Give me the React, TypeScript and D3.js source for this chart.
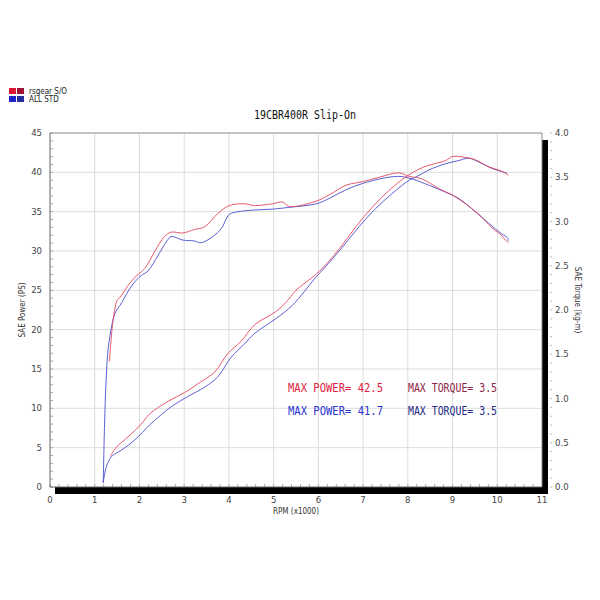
import React from 'react';
import * as d3 from 'd3';

// rpm (x1000) sample points for each run
const rsgearPowerRpm = [1.35, 1.49, 1.75, 2.04, 2.23, 2.64, 3.01, 3.38, 3.68, 3.98, 4.27, 4.57, 5.05, 5.28, 5.5, 6.02, 6.47, 6.84, 7.21, 7.58, 7.95, 8.25, 8.47, 8.85, 8.99, 9.29, 9.51, 9.81, 10.03, 10.18, 10.25];
const rsgearPower = [3.9, 5.1, 6.4, 8.0, 9.3, 10.9, 12.0, 13.4, 14.6, 17.0, 18.5, 20.6, 22.3, 23.5, 25.0, 27.4, 30.3, 33.1, 35.6, 37.7, 39.4, 40.4, 40.9, 41.5, 42.0, 41.9, 41.6, 40.7, 40.3, 39.9, 39.6];

const stdPowerRpm = [1.19, 1.26, 1.38, 1.6, 1.9, 2.23, 2.49, 2.71, 3.08, 3.46, 3.75, 4.05, 4.35, 4.57, 5.05, 5.42, 5.95, 6.13, 6.54, 6.91, 7.28, 7.65, 8.03, 8.25, 8.47, 8.85, 9.14, 9.36, 9.59, 9.88, 10.1, 10.22];
const stdPower = [0.5, 2.6, 3.9, 4.7, 6.0, 7.9, 9.2, 10.2, 11.5, 12.7, 14.0, 16.5, 18.2, 19.5, 21.4, 23.1, 26.7, 27.8, 30.5, 33.1, 35.4, 37.3, 39.0, 39.6, 40.3, 41.1, 41.5, 41.8, 41.3, 40.5, 40.1, 39.9];

const rsgearTorqueRpm = [1.33, 1.41, 1.51, 1.56, 1.75, 1.9, 2.12, 2.34, 2.56, 2.71, 2.97, 3.23, 3.46, 3.75, 4.01, 4.35, 4.57, 4.98, 5.2, 5.35, 5.95, 6.24, 6.62, 6.99, 7.36, 7.8, 8.03, 8.32, 8.7, 8.99, 9.29, 9.59, 9.88, 10.1, 10.18, 10.25];
const rsgearTorque = [1.42, 1.88, 2.12, 2.14, 2.28, 2.37, 2.47, 2.66, 2.83, 2.88, 2.87, 2.91, 2.94, 3.09, 3.18, 3.20, 3.18, 3.20, 3.22, 3.17, 3.23, 3.30, 3.41, 3.45, 3.50, 3.55, 3.51, 3.48, 3.37, 3.30, 3.20, 3.08, 2.93, 2.84, 2.79, 2.76];

const stdTorqueRpm = [1.19, 1.22, 1.25, 1.3, 1.38, 1.45, 1.6, 1.82, 2.04, 2.19, 2.42, 2.6, 2.71, 2.97, 3.23, 3.38, 3.64, 3.83, 4.01, 4.2, 4.57, 4.98, 5.35, 5.95, 6.24, 6.62, 6.99, 7.36, 7.8, 8.1, 8.47, 8.85, 9.14, 9.51, 9.81, 10.1, 10.22, 10.25];
const stdTorque = [0.05, 0.71, 1.16, 1.56, 1.82, 1.96, 2.08, 2.27, 2.39, 2.44, 2.62, 2.77, 2.83, 2.79, 2.78, 2.76, 2.83, 2.92, 3.08, 3.11, 3.13, 3.14, 3.16, 3.20, 3.26, 3.36, 3.43, 3.48, 3.51, 3.48, 3.41, 3.33, 3.26, 3.11, 2.98, 2.86, 2.82, 2.78];

const rpmTicks = d3.range(0, 12);
const powerTicks = d3.range(0, 50, 5);
const torqueTicks = d3.range(0, 4.5, 0.5);

const legendItems = ['rsgear S/O', 'ALL STD'];
const maxLabels = ['MAX POWER= 42.5', 'MAX TORQUE= 3.5', 'MAX POWER= 41.7', 'MAX TORQUE= 3.5'];

const RED = '#e2485e';
const BLUE = '#4a4ed2';

const DynoChart: React.FC = () => {
  const svgRef = React.useRef<SVGSVGElement>(null);

  React.useEffect(() => {
    if (!svgRef.current) return;
    const svg = d3.select(svgRef.current);
    svg.selectAll('*').remove();

    const left = 50, right = 542, top = 133, bottom = 487;
    const x = d3.scaleLinear().domain([0, 11]).range([left, right]);
    const yP = d3.scaleLinear().domain([0, 45]).range([bottom, top]);
    const yT = d3.scaleLinear().domain([0, 4]).range([bottom, top]);
    const font = "'Liberation Sans Narrow', 'DejaVu Sans Condensed', 'DejaVu Sans', sans-serif";

    // drop shadow + plot area
    svg.append('rect').attr('x', left + 5).attr('y', top + 7)
      .attr('width', right - left + 1).attr('height', bottom - top)
      .attr('fill', '#000');
    svg.append('rect').attr('x', left).attr('y', top)
      .attr('width', right - left).attr('height', bottom - top)
      .attr('fill', '#fff');

    // grid
    svg.append('g').selectAll('line').data(rpmTicks.slice(1, -1)).enter().append('line')
      .attr('x1', d => x(d)).attr('x2', d => x(d)).attr('y1', top).attr('y2', bottom)
      .attr('stroke', '#dcdcdc').attr('stroke-width', 1);
    svg.append('g').selectAll('line').data(powerTicks.slice(1, -1)).enter().append('line')
      .attr('x1', left).attr('x2', right).attr('y1', d => yP(d)).attr('y2', d => yP(d))
      .attr('stroke', '#dcdcdc').attr('stroke-width', 1);

    // minor ticks
    svg.append('g').selectAll('line').data(d3.range(0, 46, 1)).enter().append('line')
      .attr('x1', left).attr('x2', left + 3).attr('y1', d => yP(d)).attr('y2', d => yP(d))
      .attr('stroke', '#aaa');
    svg.append('g').selectAll('line').data(d3.range(0, 55, 1).map(d => d / 5)).enter().append('line')
      .attr('x1', d => x(d)).attr('x2', d => x(d)).attr('y1', bottom).attr('y2', bottom - 3)
      .attr('stroke', '#aaa');
    svg.append('g').selectAll('line').data(d3.range(0, 41, 1).map(d => d / 10)).enter().append('line')
      .attr('x1', right + 8).attr('x2', right + 10).attr('y1', d => yT(d)).attr('y2', d => yT(d))
      .attr('stroke', '#bbb');

    // borders
    svg.append('line').attr('x1', left).attr('x2', right).attr('y1', top).attr('y2', top).attr('stroke', '#888');
    svg.append('line').attr('x1', left).attr('x2', left).attr('y1', top).attr('y2', bottom).attr('stroke', '#666');
    svg.append('line').attr('x1', right).attr('x2', right).attr('y1', top).attr('y2', bottom).attr('stroke', '#888');
    svg.append('line').attr('x1', left).attr('x2', right).attr('y1', bottom).attr('y2', bottom).attr('stroke', '#666');

    // tick labels
    svg.append('g').selectAll('text').data(powerTicks).enter().append('text')
      .attr('x', left - 8).attr('y', d => yP(d) + 3).attr('text-anchor', 'end')
      .attr('font-family', font).attr('font-size', 9.5).attr('fill', '#444')
      .text(d => d);
    svg.append('g').selectAll('text').data(torqueTicks).enter().append('text')
      .attr('x', right + 13).attr('y', d => yT(d) + 3)
      .attr('font-family', font).attr('font-size', 9.5).attr('fill', '#444')
      .text(d => d.toFixed(1));
    svg.append('g').selectAll('text').data(rpmTicks).enter().append('text')
      .attr('x', d => x(d)).attr('y', bottom + 16).attr('text-anchor', 'middle')
      .attr('font-family', font).attr('font-size', 9.5).attr('fill', '#444')
      .text(d => d);

    // axis titles
    svg.append('text').attr('x', 296).attr('y', bottom + 27).attr('text-anchor', 'middle')
      .attr('font-family', font).attr('font-size', 8).attr('fill', '#333').text('RPM (x1000)');
    svg.append('text').attr('transform', 'translate(25,310) rotate(-90)').attr('text-anchor', 'middle')
      .attr('font-family', font).attr('font-size', 8).attr('fill', '#333').text('SAE Power (PS)');
    svg.append('text').attr('transform', 'translate(575,300) rotate(90)').attr('text-anchor', 'middle')
      .attr('font-family', font).attr('font-size', 8).attr('fill', '#333').text('SAE Torque (kg-m)');

    // title
    svg.append('text').attr('x', 305).attr('y', 119).attr('text-anchor', 'middle')
      .attr('font-family', "'DejaVu Sans Mono', monospace").attr('font-size', 13)
      .attr('textLength', 102).attr('lengthAdjust', 'spacingAndGlyphs')
      .attr('fill', '#111').text('19CBR400R Slip-On');

    // curves
    const powerLine = d3.line<[number, number]>().x(d => x(d[0])).y(d => yP(d[1])).curve(d3.curveCatmullRom.alpha(0.5));
    const torqueLine = d3.line<[number, number]>().x(d => x(d[0])).y(d => yT(d[1])).curve(d3.curveCatmullRom.alpha(0.5));
    const curves = [
      { path: torqueLine(d3.zip(stdTorqueRpm, stdTorque) as [number, number][]), color: BLUE },
      { path: powerLine(d3.zip(stdPowerRpm, stdPower) as [number, number][]), color: BLUE },
      { path: torqueLine(d3.zip(rsgearTorqueRpm, rsgearTorque) as [number, number][]), color: RED },
      { path: powerLine(d3.zip(rsgearPowerRpm, rsgearPower) as [number, number][]), color: RED },
    ];
    svg.append('g').selectAll('path').data(curves).enter().append('path')
      .attr('d', d => d.path || '').attr('fill', 'none')
      .attr('stroke', d => d.color).attr('stroke-width', 1).attr('stroke-opacity', 0.9);

    // max values
    const labelColors = ['#e0223e', '#8e2446', '#2a34d0', '#252a86'];
    svg.append('g').selectAll('text').data(maxLabels).enter().append('text')
      .attr('x', (d, i) => (i % 2 === 0 ? 288 : 408))
      .attr('y', (d, i) => (i < 2 ? 392 : 415))
      .attr('font-family', "'DejaVu Sans Mono', monospace").attr('font-size', 12.5)
      .attr('textLength', (d, i) => (i % 2 === 0 ? 95 : 89)).attr('lengthAdjust', 'spacingAndGlyphs')
      .attr('fill', (d, i) => labelColors[i])
      .text(d => d);

    // legend
    const legendColors = [['#d8142e', '#a01232'], ['#1a22c8', '#242ca0']];
    const lg = svg.append('g');
    legendItems.forEach((name, i) => {
      lg.append('rect').attr('x', 9).attr('y', 88 + i * 8).attr('width', 7).attr('height', 6).attr('fill', legendColors[i][0]);
      lg.append('rect').attr('x', 17).attr('y', 88 + i * 8).attr('width', 7).attr('height', 6).attr('fill', legendColors[i][1]);
      lg.append('text').attr('x', 29).attr('y', 94 + i * 8)
        .attr('font-family', font).attr('font-size', 8).attr('fill', '#222').text(name);
    });
  }, []);

  return (
    <svg
      ref={svgRef}
      width={600}
      height={600}
      style={{ position: 'absolute', left: 0, top: 0, background: '#fff' }}
    />
  );
};

export default function App() {
  return <DynoChart />;
}
